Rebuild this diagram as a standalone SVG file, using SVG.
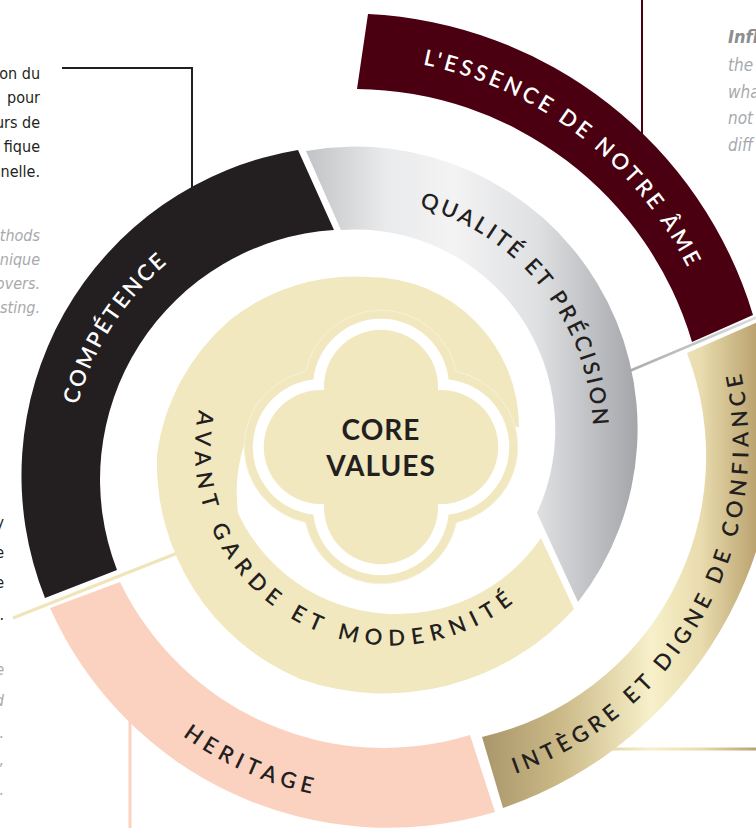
<svg xmlns="http://www.w3.org/2000/svg" width="756" height="828" viewBox="0 0 756 828">
<style>
.lbl{font-family:Lato,"Noto Sans","DejaVu Sans",sans-serif;font-size:22px;font-weight:600;}
.dark{fill:#231f20;}
.light{fill:#ffffff;}
.body{font-family:"DejaVu Sans Condensed","Liberation Sans Narrow",Roboto,"Liberation Sans",sans-serif;font-stretch:condensed;font-size:16px;}
.blk{fill:#231f20;}
.gry{fill:#a7a9ac;font-style:italic;}
.core{font-family:Lato,"Noto Sans",sans-serif;font-size:28px;font-weight:700;fill:#231f20;text-anchor:middle;letter-spacing:1px;}
.cream{fill:#f1e8bf;}
</style>
<defs>
<linearGradient id="gGray" gradientUnits="userSpaceOnUse" x1="300" y1="0" x2="640" y2="0">
<stop offset="0" stop-color="#bfc0c3"/>
<stop offset="0.25" stop-color="#e9eaeb"/>
<stop offset="0.45" stop-color="#f3f3f4"/>
<stop offset="0.7" stop-color="#dfe0e2"/>
<stop offset="1" stop-color="#a3a4a8"/>
</linearGradient>
<linearGradient id="gGold" gradientUnits="userSpaceOnUse" x1="480" y1="0" x2="756" y2="0">
<stop offset="0" stop-color="#a8956a"/>
<stop offset="0.29" stop-color="#cbb987"/>
<stop offset="0.62" stop-color="#f7f0ca"/>
<stop offset="0.8" stop-color="#e9dcae"/>
<stop offset="1" stop-color="#bba370"/>
</linearGradient>
<linearGradient id="gGrayLine" gradientUnits="userSpaceOnUse" x1="625" y1="0" x2="760" y2="0">
<stop offset="0" stop-color="#a9aaad"/>
<stop offset="1" stop-color="#dcdddf"/>
</linearGradient>
<path id="pComp" d="M77.6,405 A282,282 0 0 1 168.7,262" fill="none"/>
<path id="pQual" d="M419.3,207 A237,237 0 0 1 592.9,425.5" fill="none"/>
<path id="pEss" d="M422.9,64.6 A381,381 0 0 1 689.7,271.6" fill="none"/>
<path id="pInt" d="M515.2,773.9 A348.5,348.5 0 0 0 739.7,367.2" fill="none"/>
<path id="pHer" d="M182.6,735.9 A346,346 0 0 0 314.1,794.4" fill="none"/>
<path id="pAv" d="M198.9,409.8 A196,196 0 0 0 518.2,598.5" fill="none"/>
</defs>
<rect width="756" height="828" fill="#ffffff"/>

<g id="connectors" fill="none">
<polyline points="62,68 192,68 192,195" stroke="#231f20" stroke-width="2"/>
<line x1="642" y1="0" x2="642" y2="140" stroke="#4a0010" stroke-width="2"/>
<line x1="620" y1="375" x2="760" y2="316" stroke="url(#gGrayLine)" stroke-width="2.5"/>
<line x1="605" y1="749" x2="756" y2="749" stroke="url(#gGold)" stroke-width="3"/>
<line x1="130" y1="715" x2="130" y2="828" stroke="#fbd2c0" stroke-width="3"/>
<line x1="13" y1="618" x2="180" y2="552" stroke="#efe5b9" stroke-width="3"/>
</g>

<g id="competence">
<path d="M45,598 A330,330 0 0 1 298,150 L334,230 A250,250 0 0 0 117,570 Z" fill="#231f20"/>
<text class="lbl light"><textPath href="#pComp" textLength="170" lengthAdjust="spacing">COMPÉTENCE</textPath></text>
</g>

<g id="qualite">
<path d="M306,151 A282,282 0 0 1 578,602 L537,513 A200,200 0 0 0 341,230 Z" fill="url(#gGray)"/>
<text class="lbl dark"><textPath href="#pQual" textLength="298" lengthAdjust="spacing">QUALITÉ ET PRÉCISION</textPath></text>
</g>

<g id="essence">
<path d="M368,14 A424,424 0 0 1 753,315 L692,342 A353,353 0 0 0 357,89 Z" fill="#4a0010"/>
<text class="lbl light"><textPath href="#pEss" textLength="345" lengthAdjust="spacing">L'ESSENCE DE NOTRE ÂME</textPath></text>
</g>

<g id="integre">
<path d="M687,353 L762,320 A404,404 0 0 1 503,808 L482,737 A288,288 0 0 0 687,353 Z" fill="url(#gGold)"/>
<text class="lbl dark"><textPath href="#pInt" textLength="502" lengthAdjust="spacing">INTÈGRE ET DIGNE DE CONFIANCE</textPath></text>
</g>

<g id="heritage">
<path d="M50,608 A370,370 0 0 0 495,812 L470,735 A293,293 0 0 1 120,582 Z" fill="#fbd2c0"/>
<text class="lbl dark"><textPath href="#pHer" textLength="142" lengthAdjust="spacing">HERITAGE</textPath></text>
</g>

<g id="avant-garde">
<path class="cream" d="M574,609 A255,255 0 0 1 300,679 A235,235 0 0 1 157,455 A215,215 0 0 1 230,320 A200,200 0 0 1 369,277 A150,150 0 0 1 519,427 L252,425 A160,160 0 0 0 238,513 A175,175 0 0 0 541,538 Z"/>
<text class="lbl dark"><textPath href="#pAv" textLength="480" lengthAdjust="spacing">AVANT GARDE ET MODERNITÉ</textPath></text>
</g>

<g id="core-values">
<path class="cream" stroke="#f7f1d9" stroke-width="1" d="M305.6,371.6 A77,77 0 0 1 456.4,371.6 A77,77 0 0 1 456.4,522.4 A77,77 0 0 1 305.6,522.4 A77,77 0 0 1 305.6,371.6 Z"/>
<path fill="#ffffff" d="M313.4,379.4 A68,68 0 0 1 448.6,379.4 A68,68 0 0 1 448.6,514.6 A68,68 0 0 1 313.4,514.6 A68,68 0 0 1 313.4,379.4 Z"/>
<path class="cream" d="M324.1,390.1 A57,57 0 1 1 437.9,390.1 A57,57 0 1 1 437.9,503.9 A57,57 0 1 1 324.1,503.9 A57,57 0 1 1 324.1,390.1 Z"/>
<text class="core" x="381" y="440">CORE</text>
<text class="core" x="381" y="476">VALUES</text>
</g>

<g id="note-top-left" class="body" text-anchor="end">
<text class="blk" x="40" y="79">on du</text>
<text class="blk" x="40" y="103">pour</text>
<text class="blk" x="40" y="128">urs de</text>
<text class="blk" x="40" y="152">fique</text>
<text class="blk" x="40" y="177">nelle.</text>
<text class="gry" x="40" y="241">thods</text>
<text class="gry" x="40" y="265">nique</text>
<text class="gry" x="40" y="289">overs.</text>
<text class="gry" x="40" y="313">sting.</text>
</g>

<g id="note-left" class="body" text-anchor="end">
<text class="blk" x="4" y="528">y</text>
<text class="blk" x="4" y="558">e</text>
<text class="blk" x="4" y="588">e</text>
<text class="blk" x="4" y="620">.</text>
<text class="gry" x="4" y="675">e</text>
<text class="gry" x="4" y="706">d</text>
<text class="gry" x="4" y="738">.</text>
<text class="gry" x="4" y="765">,</text>
<text class="gry" x="4" y="795">.</text>
</g>

<g id="note-top-right" class="body">
<text x="728" y="43" font-weight="700" font-style="italic" fill="#8d8e90" font-size="18">Infl</text>
<text class="gry" x="728" y="71" font-size="17">the</text>
<text class="gry" x="728" y="98" font-size="17">wha</text>
<text class="gry" x="728" y="124" font-size="17">not</text>
<text class="gry" x="728" y="151" font-size="17">diff</text>
</g>
</svg>
